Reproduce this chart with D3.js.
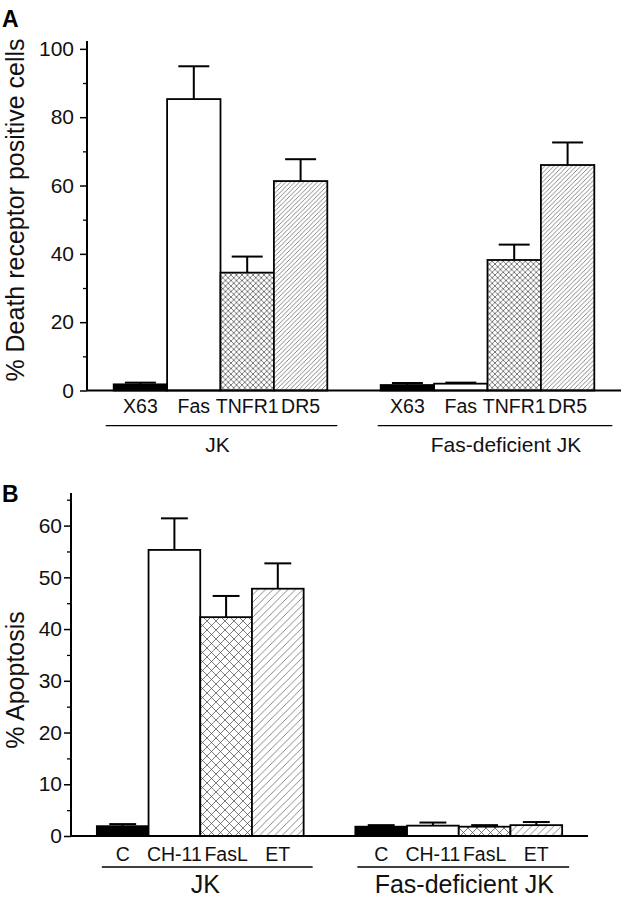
<!DOCTYPE html>
<html><head><meta charset="utf-8">
<script src="https://cdn.jsdelivr.net/npm/d3@7"></script>
<style>
html,body{margin:0;padding:0;background:#fff;}
svg{display:block;font-family:"Liberation Sans",Arial,Helvetica,sans-serif;}
</style></head>
<body>
<svg id="chart" width="622" height="899"></svg>
<script>
// ---------- DATA ----------
const groups = ["JK", "Fas-deficient JK"];
const fills = ["black", "white", "cross", "diag"];

// Panel A: % death receptor positive cells
const catsA = ["X63", "Fas", "TNFR1", "DR5"];
const valuesA_JK = [1.8, 85.3, 34.5, 61.3];
const errorsA_JK = [0.5, 9.6, 4.7, 6.4];
const valuesA_FD = [1.6, 2.0, 38.2, 66.0];
const errorsA_FD = [0.6, 0.3, 4.5, 6.6];
const ticksA = [0, 20, 40, 60, 80, 100];
const minorA = [10, 30, 50, 70, 90];

// Panel B: % apoptosis
const catsB = ["C", "CH-11", "FasL", "ET"];
const valuesB_JK = [1.9, 55.3, 42.3, 47.8];
const errorsB_JK = [0.4, 6.1, 4.1, 4.9];
const valuesB_FD = [1.8, 2.0, 1.8, 2.1];
const errorsB_FD = [0.3, 0.6, 0.3, 0.6];
const ticksB = [0, 10, 20, 30, 40, 50, 60];
const minorB = [5, 15, 25, 35, 45, 55, 65];

// ---------- DRAW ----------
const svg = d3.select("#chart");
const defs = svg.append("defs");

function makePatterns(id, crossSize, diagSize) {
  const pc = defs.append("pattern").attr("id", "cross" + id)
    .attr("patternUnits", "userSpaceOnUse").attr("width", crossSize).attr("height", crossSize);
  pc.append("rect").attr("width", crossSize).attr("height", crossSize).attr("fill", "#fff");
  const s = crossSize;
  pc.append("path").attr("d", `M-1,-1 L${s+1},${s+1} M${s+1},-1 L-1,${s+1}`)
    .attr("stroke", "#444").attr("stroke-width", 0.7);
  const pd = defs.append("pattern").attr("id", "diag" + id)
    .attr("patternUnits", "userSpaceOnUse").attr("width", diagSize).attr("height", diagSize);
  pd.append("rect").attr("width", diagSize).attr("height", diagSize).attr("fill", "#fff");
  const d = diagSize;
  pd.append("path").attr("d", `M-1,1 L1,-1 M0,${d} L${d},0 M${d-1},${d+1} L${d+1},${d-1}`)
    .attr("stroke", "#555").attr("stroke-width", 0.7);
}
makePatterns("A", 5.5, 4.5);
makePatterns("B", 9, 7.5);

function fillOf(f, id) {
  if (f === "black") return "#000";
  if (f === "white") return "#fff";
  return `url(#${f}${id})`;
}

function drawPanel(cfg) {
  const g = svg.append("g");
  const keys = [];
  cfg.groups.forEach((gr, gi) => {
    if (gi > 0) keys.push("_gap" + gi);
    cfg.cats.forEach(c => keys.push(gr + "|" + c));
  });
  const x = d3.scaleBand().domain(keys).range([cfg.x0, cfg.x1]).paddingOuter(0.5).paddingInner(0);
  const y = d3.scaleLinear().domain([0, cfg.ymax]).range([cfg.y0, cfg.y1]);
  const bw = x.bandwidth();

  // bars
  cfg.groups.forEach((gr, gi) => {
    const vals = cfg.values[gi], errs = cfg.errors[gi];
    cfg.cats.forEach((c, ci) => {
      const k = gr + "|" + c;
      const xl = x(k), v = vals[ci], e = errs[ci];
      const cx = xl + bw / 2;
      // error bar
      g.append("line").attr("x1", cx).attr("x2", cx).attr("y1", y(v)).attr("y2", y(v + e))
        .attr("stroke", "#000").attr("stroke-width", 2);
      g.append("line").attr("x1", cx - bw * cfg.capFrac / 2).attr("x2", cx + bw * cfg.capFrac / 2)
        .attr("y1", y(v + e)).attr("y2", y(v + e))
        .attr("stroke", "#000").attr("stroke-width", 2);
      g.append("rect").attr("x", xl).attr("y", y(v)).attr("width", bw).attr("height", y(0) - y(v))
        .attr("fill", fillOf(fills[ci], cfg.id)).attr("stroke", "#000").attr("stroke-width", 1.8);
      // category label
      g.append("text").attr("x", cx).attr("y", cfg.catY).attr("text-anchor", "middle")
        .attr("font-size", cfg.catFont).attr("fill", "#111").text(c);
    });
    // group line + label
    const first = x(gr + "|" + cfg.cats[0]);
    const last = x(gr + "|" + cfg.cats[cfg.cats.length - 1]) + bw;
    const lx1 = first + cfg.linePad[gi][0], lx2 = last + cfg.linePad[gi][1];
    g.append("line").attr("x1", lx1).attr("x2", lx2).attr("y1", cfg.lineY).attr("y2", cfg.lineY)
      .attr("stroke", "#000").attr("stroke-width", 1.3);
    g.append("text").attr("x", (lx1 + lx2) / 2 + cfg.labelDx[gi]).attr("y", cfg.groupY)
      .attr("text-anchor", "middle").attr("font-size", cfg.groupFont).attr("fill", "#111").text(gr);
  });

  // x axis line
  g.append("line").attr("x1", cfg.x0).attr("x2", cfg.x1).attr("y1", y(0)).attr("y2", y(0))
    .attr("stroke", "#000").attr("stroke-width", 2);

  // y axis
  const ax = g.append("g").attr("transform", `translate(${cfg.x0},0)`)
    .call(d3.axisLeft(y).tickValues(cfg.ticks).tickSize(7).tickPadding(cfg.tickPad).tickSizeOuter(0));
  ax.select(".domain").attr("stroke-width", 2).attr("d", `M0,${cfg.y0}V${cfg.y1}`);
  ax.selectAll(".tick line").attr("stroke-width", 1.5);
  ax.selectAll(".tick text").attr("font-size", cfg.tickFont).attr("fill", "#111")
    .attr("font-family", '"Liberation Sans",Arial,sans-serif');
  const mx = g.append("g").attr("transform", `translate(${cfg.x0},0)`)
    .call(d3.axisLeft(y).tickValues(cfg.minor).tickSize(4).tickFormat(""));
  mx.select(".domain").remove();
  mx.selectAll(".tick line").attr("stroke-width", 1.3);

  // y title
  g.append("text").attr("transform", `translate(${cfg.titleX},${cfg.titleY}) rotate(-90)`)
    .attr("text-anchor", "middle").attr("dy", "0.35em").attr("font-size", cfg.titleFont)
    .attr("fill", "#111").text(cfg.title);
  // panel letter
  g.append("text").attr("x", 2).attr("y", cfg.letterY).attr("font-size", 23).attr("font-weight", "bold")
    .attr("fill", "#000").text(cfg.letter);
}

drawPanel({
  id: "A", letter: "A", letterY: 27,
  groups: groups, cats: catsA,
  values: [valuesA_JK, valuesA_FD], errors: [errorsA_JK, errorsA_FD],
  x0: 87, x1: 621, y0: 390.5, y1: 41, ymax: 102.3,
  ticks: ticksA, minor: minorA, tickFont: 21, tickPad: 6,
  capFrac: 0.58, catY: 413, catFont: 19.5,
  lineY: 425.7, linePad: [[-8, 10], [-3, 18]], labelDx: [-4, 11], groupY: 452, groupFont: 21,
  title: "% Death receptor positive cells", titleX: 15, titleY: 210, titleFont: 25
});

drawPanel({
  id: "B", letter: "B", letterY: 502,
  groups: groups, cats: catsB,
  values: [valuesB_JK, valuesB_FD], errors: [errorsB_JK, errorsB_FD],
  x0: 71, x1: 588, y0: 836, y1: 493, ymax: 66.3,
  ticks: ticksB, minor: minorB, tickFont: 21, tickPad: 2,
  capFrac: 0.52, catY: 861, catFont: 19.5,
  lineY: 867, linePad: [[5, 9], [2, 7]], labelDx: [-2, 1], groupY: 893, groupFont: 25,
  title: "% Apoptosis", titleX: 15, titleY: 680, titleFont: 25
});
</script>
</body></html>
